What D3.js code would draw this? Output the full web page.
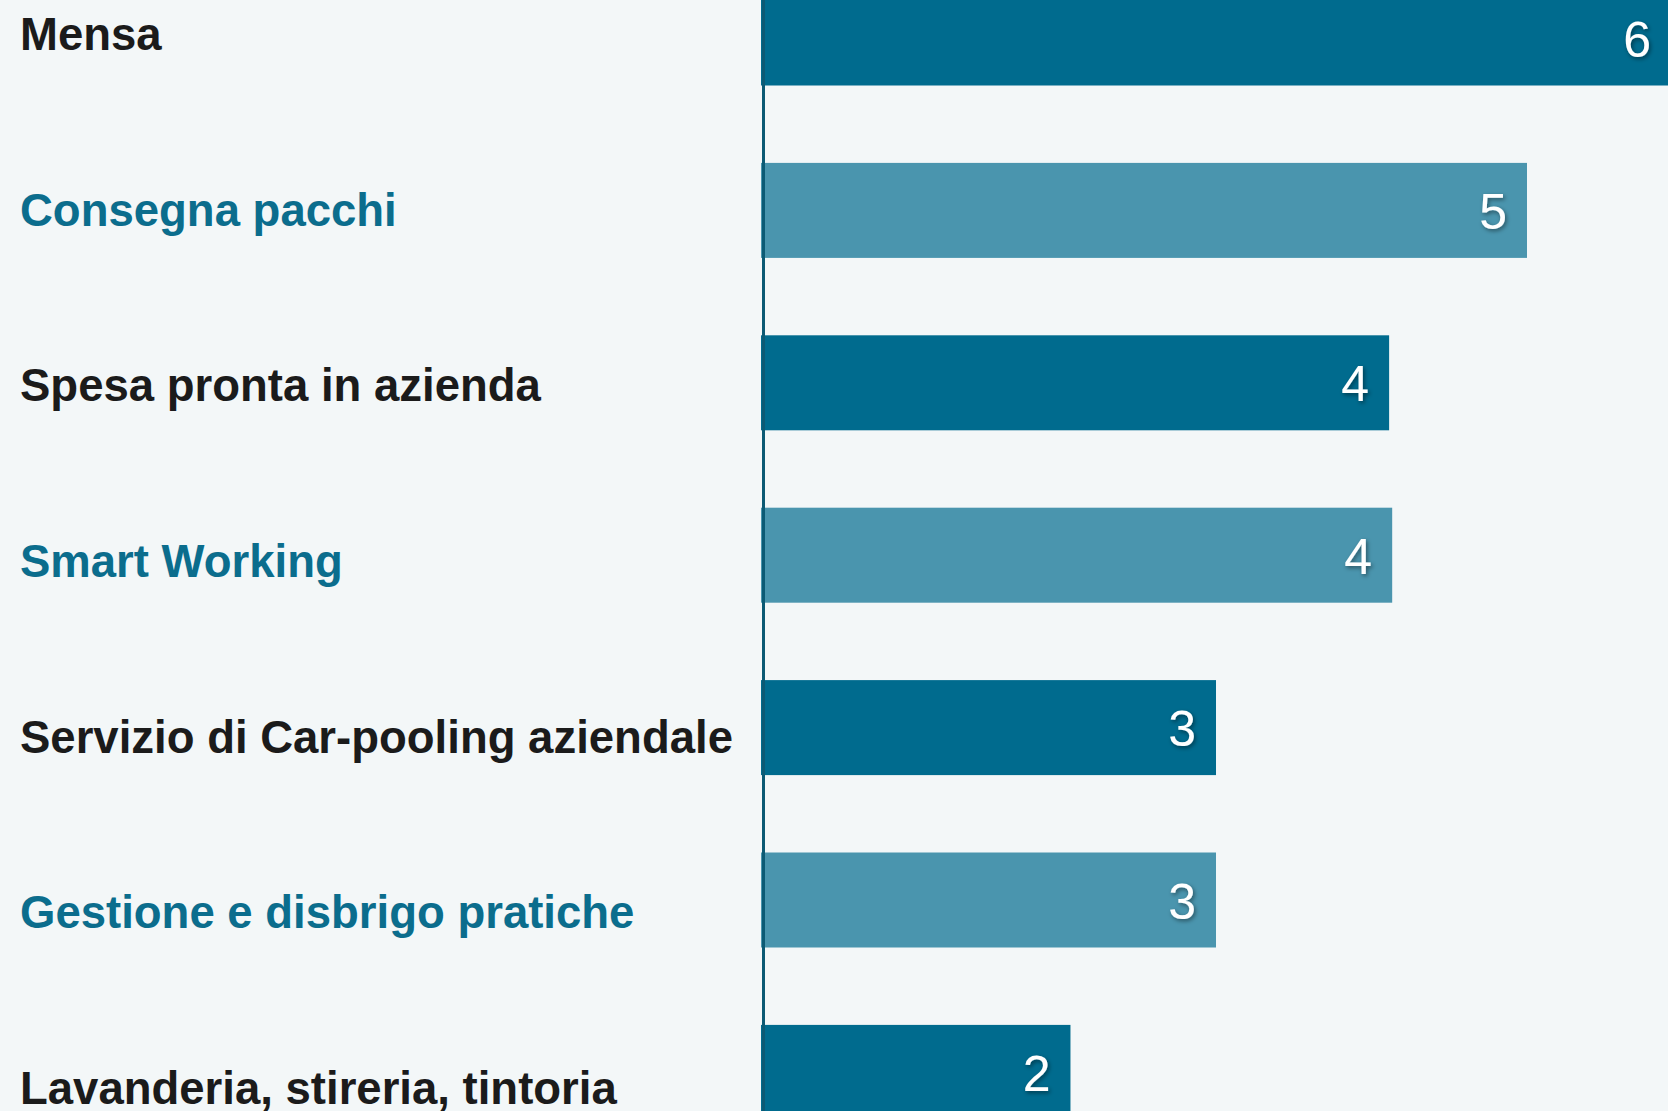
<!DOCTYPE html>
<html>
<head>
<meta charset="utf-8">
<script src="https://cdn.jsdelivr.net/npm/d3@7"></script>
<style>
  html, body { margin: 0; padding: 0; background: #f3f7f8; overflow: hidden; }
</style>
</head>
<body>
<div id="container"></div>
<script>
/* CONSTANTS AND GLOBALS */
const width = 1668;
const height = 1111;

// data
const categories = [
  "Mensa",
  "Consegna pacchi",
  "Spesa pronta in azienda",
  "Smart Working",
  "Servizio di Car-pooling aziendale",
  "Gestione e disbrigo pratiche",
  "Lavanderia, stireria, tintoria"
];
const values = [6, 5, 4.1, 4.12, 2.97, 2.97, 2.02];

const data = categories.map((c, i) => ({ name: c, value: values[i], i: i }));

const darkBar = "#006b8e";
const lightBar = "#4a95ae";
const darkText = "#1b1b1b";
const tealText = "#0b6d8d";

const svg = d3.select('#container')
  .append('svg')
  .attr("width", width)
  .attr("height", height)
  .style('background-color', '#f3f7f8');

// soft shadow under the value labels
const filter = svg.append("defs").append("filter")
  .attr("id", "shadow")
  .attr("x", "-50%").attr("y", "-50%")
  .attr("width", "200%").attr("height", "200%");
filter.append("feDropShadow")
  .attr("dx", 1.5).attr("dy", 2)
  .attr("stdDeviation", 2)
  .attr("flood-color", "#000")
  .attr("flood-opacity", 0.45);

// Scales
const xScale = d3.scaleLinear()
  .domain([0, 6])
  .range([761, 761 + 6 * 153.2]);

const step = 172.4;
const pad = 1 - 95 / step;
const yScale = d3.scaleBand()
  .domain(categories)
  .range([-9.5, -9.5 + step * (categories.length - pad)])
  .paddingInner(pad)
  .paddingOuter(0);

// category labels sit on their own slightly wider rhythm
const labelScale = d3.scalePoint()
  .domain(categories)
  .range([50, 1104]);

// bars
svg.selectAll('rect.bar')
  .data(data)
  .join('rect')
  .attr('class', 'bar')
  .attr('x', xScale(0))
  .attr('y', d => yScale(d.name))
  .attr('height', yScale.bandwidth())
  .attr('width', d => xScale(d.value) - xScale(0))
  .attr('fill', d => d.i % 2 === 0 ? darkBar : lightBar);

// axis line
svg.append("line")
  .attr("x1", xScale(0) + 2.5)
  .attr("x2", xScale(0) + 2.5)
  .attr("y1", 0)
  .attr("y2", height)
  .attr("stroke", "#0c5a74")
  .attr("stroke-width", 3);

// category labels
svg.selectAll('text.cat-label')
  .data(data)
  .join('text')
  .attr('class', 'cat-label')
  .attr('x', 20)
  .attr('y', d => labelScale(d.name))
  .attr('font-family', '"Liberation Sans", Arial, Helvetica, sans-serif')
  .attr('font-weight', 'bold')
  .attr('font-size', '45.5px')
  .attr('fill', d => d.i % 2 === 0 ? darkText : tealText)
  .text(d => d.name);

// value labels
svg.selectAll('text.bar-label')
  .data(data)
  .join('text')
  .attr('class', 'bar-label')
  .attr('x', d => Math.min(xScale(d.value), width + 3) - 20)
  .attr('y', d => yScale(d.name) + yScale.bandwidth() / 2)
  .attr('dy', '0.37em')
  .attr('text-anchor', 'end')
  .attr('font-family', '"Liberation Sans", Arial, Helvetica, sans-serif')
  .attr('font-size', '50px')
  .attr('fill', '#fff')
  .attr('filter', 'url(#shadow)')
  .text(d => d3.format(".0f")(d.value));
</script>
</body>
</html>
